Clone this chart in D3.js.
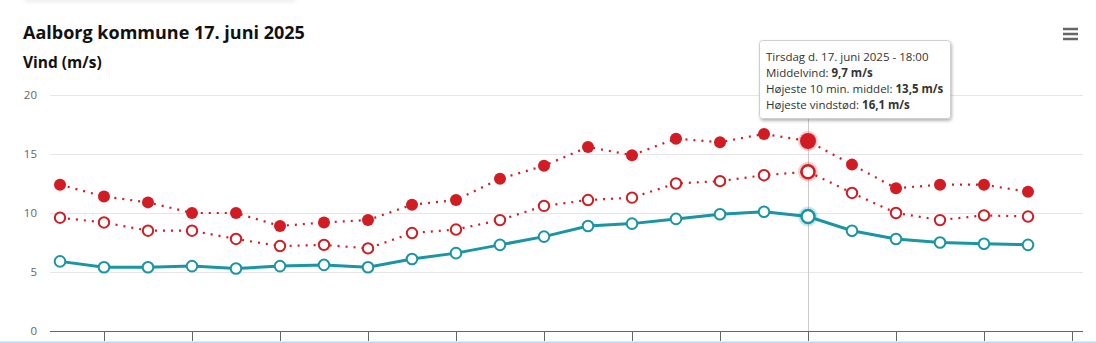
<!DOCTYPE html>
<html>
<head>
<meta charset="utf-8">
<script src="https://cdn.jsdelivr.net/npm/d3@7/dist/d3.min.js"></script>
<style>
  html, body { margin: 0; padding: 0; background: #fff; }
  svg { display: block; font-family: "Open Sans", "Noto Sans", sans-serif; }
</style>
</head>
<body>
<svg id="chart" width="1096" height="343"></svg>
<script>
// Hours of the day (observations each hour)
const hours = [1, 2, 3, 4, 5, 6, 7, 8, 9, 10, 11, 12, 13, 14, 15, 16, 17, 18, 19, 20, 21, 22, 23];
// Middelvind (m/s)
const meanWind = [5.9, 5.4, 5.4, 5.5, 5.3, 5.5, 5.6, 5.4, 6.1, 6.6, 7.3, 8.0, 8.9, 9.1, 9.5, 9.9, 10.1, 9.7, 8.5, 7.8, 7.5, 7.4, 7.3];
// Højeste 10 min. middel (m/s)
const max10min = [9.6, 9.2, 8.5, 8.5, 7.8, 7.2, 7.3, 7.0, 8.3, 8.6, 9.4, 10.6, 11.1, 11.3, 12.5, 12.7, 13.2, 13.5, 11.7, 10.0, 9.4, 9.8, 9.7];
// Højeste vindstød (m/s)
const gusts = [12.4, 11.4, 10.9, 10.0, 10.0, 8.9, 9.2, 9.4, 10.7, 11.1, 12.9, 14.0, 15.6, 14.9, 16.3, 16.0, 16.7, 16.1, 14.1, 12.1, 12.4, 12.4, 11.8];
// Axis ticks
const yTicks = [0, 5, 10, 15, 20];
const xTicks = [2, 4, 6, 8, 10, 12, 14, 16, 18, 20, 22, 24];
// Hovered hour shown in the tooltip
const hoverIndex = 17;

const title = "Aalborg kommune 17. juni 2025";
const subtitle = "Vind (m/s)";
const tooltipHeader = "Tirsdag d. 17. juni 2025 - 18:00";

const svg = d3.select("#chart");
const W = 1096, H = 343;
const plot = { left: 50, right: 1083, top: 95, bottom: 331 };

const x = d3.scaleLinear()
  .domain([1 - 10 / 44, 1 + 1023 / 44])
  .range([plot.left, plot.right]);
const y = d3.scaleLinear().domain([0, 20]).range([plot.bottom, plot.top]);

const teal = "#1995a3";
const red = "#d01c22";

// faint shadow from an element above
const defs = svg.append("defs");
const blur = defs.append("filter").attr("id", "blur").attr("x", "-20%").attr("y", "-200%").attr("width", "140%").attr("height", "500%");
blur.append("feGaussianBlur").attr("stdDeviation", 2);
svg.append("rect").attr("x", 25).attr("y", -4).attr("width", 270).attr("height", 6)
  .attr("fill", "#ececec").attr("filter", "url(#blur)");

const shadow = defs.append("filter").attr("id", "shadow").attr("x", "-10%").attr("y", "-10%").attr("width", "130%").attr("height", "140%");
shadow.append("feDropShadow").attr("dx", 1).attr("dy", 2).attr("stdDeviation", 1.5)
  .attr("flood-color", "#000").attr("flood-opacity", 0.28);

// Titles
svg.append("text").attr("x", 23).attr("y", 39)
  .attr("font-size", 18).attr("font-weight", 700).attr("fill", "#111")
  .text(title);
svg.append("text").attr("x", 23).attr("y", 68)
  .attr("font-size", 15.5).attr("font-weight", 700).attr("fill", "#111")
  .text(subtitle);

// Menu icon
[29, 34, 39].forEach(yy => {
  svg.append("line").attr("x1", 1063).attr("x2", 1078).attr("y1", yy).attr("y2", yy)
    .attr("stroke", "#666").attr("stroke-width", 2.5);
});

// Grid lines and y labels
const grid = svg.append("g");
grid.selectAll("line").data(yTicks.filter(d => d > 0)).join("line")
  .attr("x1", plot.left).attr("x2", plot.right)
  .attr("y1", d => Math.round(y(d)) + 0.5).attr("y2", d => Math.round(y(d)) + 0.5)
  .attr("stroke", "#e6e6e6").attr("stroke-width", 1);

const yAxis = d3.axisLeft(y).tickValues(yTicks).tickSize(0).tickPadding(13);
svg.append("g").attr("transform", `translate(${plot.left},0)`).call(yAxis)
  .call(g => g.select(".domain").remove())
  .call(g => g.selectAll("text").attr("fill", "#666").attr("font-size", 11.5)
    .attr("font-family", "\"Open Sans\", sans-serif"));

// Crosshair at hovered point
svg.append("line")
  .attr("x1", Math.round(x(hours[hoverIndex])) + 0.5).attr("x2", Math.round(x(hours[hoverIndex])) + 0.5)
  .attr("y1", plot.top).attr("y2", plot.bottom)
  .attr("stroke", "#cccccc").attr("stroke-width", 1);

// X axis
const xAxis = d3.axisBottom(x).tickValues(xTicks).tickSize(10).tickFormat("");
svg.append("g").attr("transform", `translate(0,${plot.bottom})`).call(xAxis)
  .call(g => g.select(".domain").attr("stroke", "#666").attr("d", `M${plot.left},0.5H${plot.right}`))
  .call(g => g.selectAll(".tick line").attr("stroke", "#666"));

// Container border at bottom edge
svg.append("rect").attr("x", 0).attr("y", 341.5).attr("width", W).attr("height", 2).attr("fill", "#b9d9f2");

const line = d3.line().x((d, i) => x(hours[i])).y(d => y(d));

// Series: gusts (dotted, filled markers)
svg.append("path").datum(gusts).attr("d", line)
  .attr("fill", "none").attr("stroke", red).attr("stroke-width", 2.2)
  .attr("stroke-dasharray", "2,6").attr("stroke-linecap", "butt");
// Series: highest 10 min mean (dotted, hollow markers)
svg.append("path").datum(max10min).attr("d", line)
  .attr("fill", "none").attr("stroke", red).attr("stroke-width", 2.2)
  .attr("stroke-dasharray", "2,6").attr("stroke-linecap", "butt");
// Series: mean wind (solid)
svg.append("path").datum(meanWind).attr("d", line)
  .attr("fill", "none").attr("stroke", teal).attr("stroke-width", 3);

// Hover halos
[[gusts, red], [max10min, red], [meanWind, teal]].forEach(([arr, c]) => {
  svg.append("circle").attr("cx", x(hours[hoverIndex])).attr("cy", y(arr[hoverIndex]))
    .attr("r", 10).attr("fill", c).attr("opacity", 0.22);
});

// Markers
svg.append("g").selectAll("circle").data(gusts).join("circle")
  .attr("cx", (d, i) => x(hours[i])).attr("cy", d => y(d))
  .attr("r", (d, i) => i === hoverIndex ? 8 : 6)
  .attr("fill", red);

svg.append("g").selectAll("circle").data(max10min).join("circle")
  .attr("cx", (d, i) => x(hours[i])).attr("cy", d => y(d))
  .attr("r", (d, i) => i === hoverIndex ? 6.5 : 5.2)
  .attr("fill", "#fff").attr("stroke", red).attr("stroke-width", (d, i) => i === hoverIndex ? 2.5 : 2);

svg.append("g").selectAll("circle").data(meanWind).join("circle")
  .attr("cx", (d, i) => x(hours[i])).attr("cy", d => y(d))
  .attr("r", (d, i) => i === hoverIndex ? 6.5 : 5.3)
  .attr("fill", "#fff").attr("stroke", teal).attr("stroke-width", (d, i) => i === hoverIndex ? 2.5 : 2);

// Tooltip
const fmt = v => v.toFixed(1).replace(".", ",");
const tip = svg.append("g").attr("transform", "translate(759.5,40.5)");
tip.append("rect").attr("width", 191).attr("height", 78).attr("rx", 3)
  .attr("fill", "#fff").attr("stroke", "#cfcfcf").attr("stroke-width", 1)
  .attr("filter", "url(#shadow)");
const rows = [
  [tooltipHeader, null],
  ["Middelvind: ", fmt(meanWind[hoverIndex]) + " m/s"],
  ["Højeste 10 min. middel: ", fmt(max10min[hoverIndex]) + " m/s"],
  ["Højeste vindstød: ", fmt(gusts[hoverIndex]) + " m/s"]
];
rows.forEach((r, i) => {
  const t = tip.append("text").attr("x", 6.5).attr("y", 20 + i * 16.2)
    .attr("font-size", 11.5).attr("fill", "#333");
  t.append("tspan").text(r[0]);
  if (r[1]) t.append("tspan").attr("font-weight", 700).text(r[1]);
});
</script>
</body>
</html>
